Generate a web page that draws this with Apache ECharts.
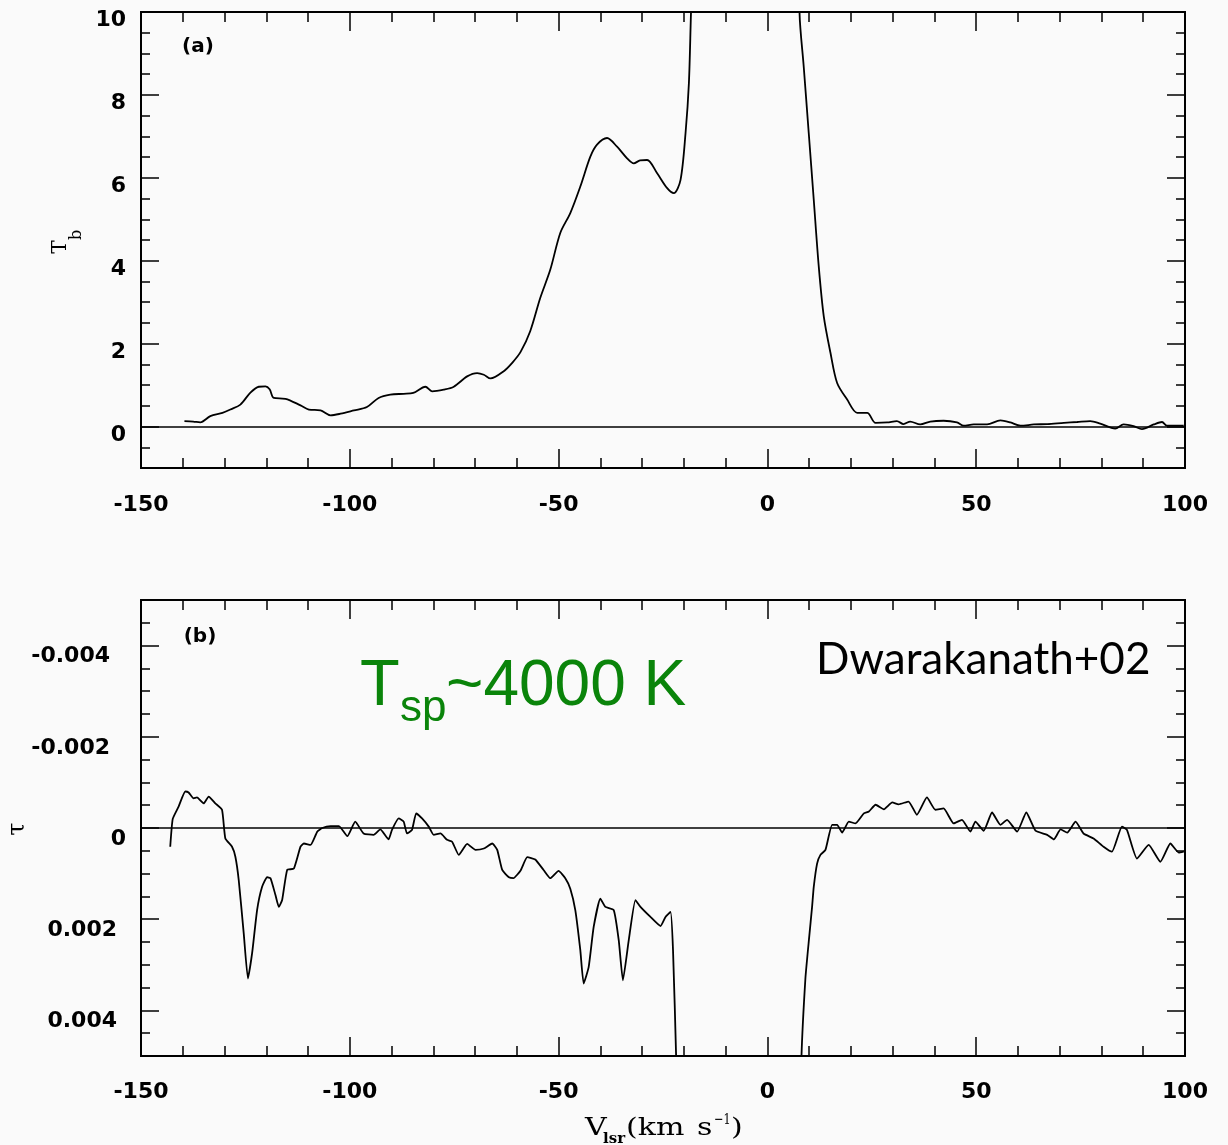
<!DOCTYPE html>
<html><head><meta charset="utf-8">
<script src="https://cdn.jsdelivr.net/npm/echarts@6/dist/echarts.min.js"></script>
<style>html,body{margin:0;padding:0;background:#fafafa}#c{width:1228px;height:1145px}</style>
</head><body><div id="c"></div>
<script>
// ---- Panel (a): brightness temperature T_b vs V_lsr ----
const tbVel = [-139.6,-137.5,-135.8,-133.4,-130.5,-128.6,-126.2,-123.8,-121.8,-120.2,-119.2,-118.2,-115.4,-111.8,-109.8,-107,-104.6,-102.2,-99,-95.9,-93.1,-90.3,-87.1,-84.8,-81.9,-80.3,-77.5,-75.1,-71.9,-69.5,-67.9,-66.3,-63.2,-61,-59.1,-56.8,-54.4,-52,-49.6,-47.2,-44.8,-42.4,-40.8,-38.4,-36,-33.6,-32,-30.5,-28.8,-26.4,-24,-22.4,-20.8,-19.6,-18.8,-18.3,-17,-15,-10,-5,0,3,6,7.7,8.7,9.9,11.1,12.3,13.5,15.1,16.7,19.1,21.5,23.9,25.9,28.7,31.0,32.6,34.2,36.6,39.0,42.2,45.4,47.0,49.4,52.6,55.8,58.2,60.6,63.8,67.0,71.0,74.2,77.3,79.7,83.3,85.3,87.7,89.7,92.5,94.5,95.7,99.7];
const tbVal = [0.13,0.12,0.10,0.25,0.33,0.41,0.53,0.82,0.96,0.97,0.90,0.69,0.67,0.51,0.41,0.39,0.27,0.31,0.39,0.47,0.69,0.77,0.79,0.81,0.96,0.85,0.89,0.96,1.21,1.29,1.25,1.16,1.33,1.55,1.80,2.30,3.10,3.78,4.67,5.15,5.79,6.51,6.80,6.96,6.75,6.47,6.35,6.42,6.43,6.11,5.75,5.63,5.95,7.08,8.28,9.97,14,22,40,52,55,45,20,9.97,8.68,7.08,5.47,3.86,2.66,1.78,1.05,0.65,0.33,0.33,0.09,0.10,0.13,0.06,0.12,0.05,0.12,0.14,0.10,0.02,0.05,0.05,0.15,0.10,0.02,0.05,0.06,0.09,0.11,0.13,0.07,-0.05,0.05,0.01,-0.06,0.05,0.11,0.02,0.02];

// ---- Panel (b): optical depth tau vs V_lsr ----
const tauVel = [-143.0,-142.4,-141.0,-139.4,-138.6,-137.4,-136.6,-135.0,-133.8,-132.2,-130.6,-129.8,-128.2,-127.4,-126.6,-125.4,-124.4,-123.4,-122.2,-121.0,-119.8,-119.0,-117.8,-117.0,-116.2,-115.0,-113.4,-111.8,-111.0,-109.4,-107.8,-106.6,-104.6,-102.6,-100.6,-98.7,-96.7,-94.3,-92.7,-90.7,-89.9,-88.3,-87.1,-86.3,-85.1,-84.1,-82.7,-81.1,-79.9,-78.3,-76.7,-75.5,-73.9,-71.9,-69.9,-67.9,-65.9,-64.7,-63.5,-61.9,-60.8,-59.1,-57.5,-55.6,-53.6,-52.0,-50.0,-48.4,-47.2,-46.0,-44.8,-44.0,-42.8,-41.6,-40.0,-38.8,-36.8,-35.6,-34.6,-33.2,-31.6,-30.4,-28.0,-25.6,-24.4,-23.2,-22.6,-21.8,-21.0,-10,0,7.6,8.1,9.1,10.0,10.7,11.1,11.9,12.7,13.9,15.5,16.7,17.9,19.5,21.1,23.1,24.3,25.9,27.9,29.9,31.4,33.8,35.8,38.2,40.2,42.2,44.6,46.6,48.6,49.8,51.8,53.8,55.8,57.4,59.8,62.0,64.2,67.0,68.6,70.2,71.8,73.8,75.7,78.1,80.5,82.5,84.9,86.1,88.5,91.3,94.1,96.5,98.5,99.7];
const tauVal = [0.00041,-0.0002,-0.00047,-0.0008,-0.00078,-0.00065,-0.00067,-0.00054,-0.00069,-0.00054,-0.0004,0.00023,0.00041,0.00063,0.00114,0.00231,0.0033,0.00275,0.0018,0.00129,0.00108,0.0011,0.00147,0.00173,0.00158,0.00092,0.00089,0.00041,0.00034,0.00037,0.00008,0.0,-0.00004,-0.00004,0.00018,-0.00014,0.00012,0.00015,0.00003,0.00025,0.00004,-0.00021,-0.00014,0.00012,0.00004,-0.00032,-0.00021,-0.00003,0.00015,0.00012,0.00026,0.0003,0.00059,0.00035,0.00048,0.00045,0.00034,0.00048,0.00092,0.00108,0.0011,0.00093,0.00064,0.00069,0.00092,0.0011,0.00094,0.0011,0.00133,0.0018,0.00268,0.00341,0.00305,0.00217,0.00155,0.00173,0.0018,0.00246,0.00334,0.00246,0.00158,0.00173,0.00195,0.00215,0.00195,0.00184,0.00268,0.0052,0.009,0.02,0.02,0.009,0.0052,0.0033,0.0024,0.00173,0.00129,0.00078,0.00059,0.00048,-0.00007,-0.00007,0.0001,-0.00014,-0.0001,-0.00032,-0.00036,-0.00051,-0.00041,-0.00056,-0.00052,-0.00058,-0.00029,-0.00067,-0.0004,-0.00043,-0.0001,-0.00018,0.00008,-0.00014,0.00006,-0.00034,-0.00007,-0.00018,0.00008,-0.00034,0.00006,0.00015,0.00025,0.00003,0.0001,-0.00014,0.00012,0.00023,0.00041,0.00052,-0.00003,0.00004,0.00067,0.00037,0.00074,0.00034,0.00054,0.00052];

// ---- Tick labels ----
const xTickLabels = [-150, -100, -50, 0, 50, 100];
const tbTickLabels = [0, 2, 4, 6, 8, 10];
const tauTickLabels = [-0.004, -0.002, 0, 0.002, 0.004];
const tbMinorTicks = [-1,-0.5,0,0.5,1,1.5,2,2.5,3,3.5,4,4.5,5,5.5,6,6.5,7,7.5,8,8.5,9,9.5,10];
const tauMinorTicks = [-0.005,-0.0045,-0.004,-0.0035,-0.003,-0.0025,-0.002,-0.0015,-0.001,-0.0005,0,0.0005,0.001,0.0015,0.002,0.0025,0.003,0.0035,0.004,0.0045,0.005];

const zip = (a, b) => a.map((v, i) => [v, b[i]]);
const BLACK = '#000';
const tickFont = {fontFamily: 'DejaVu Sans', fontSize: 22, fontWeight: 'bold', color: BLACK};

function xAx(grid, pos, showLabel, margin) {
  return {
    type: 'value', gridIndex: grid, position: pos, min: -150, max: 100, interval: 50,
    axisLine: {show: true, onZero: false, lineStyle: {color: BLACK, width: 2}},
    axisTick: {show: true, inside: true, length: 19, lineStyle: {color: BLACK, width: 1.5}},
    minorTick: {show: true, splitNumber: 5, length: 10, lineStyle: {color: BLACK, width: 1.5}},
    splitLine: {show: false}, minorSplitLine: {show: false},
    axisLabel: Object.assign({show: showLabel, margin: margin, showMinLabel: true, showMaxLabel: true,
      customValues: xTickLabels}, tickFont)
  };
}
function yAx(grid, pos, min, max, inverse, ticks, len, label) {
  return {
    type: 'value', gridIndex: grid, position: pos, min: min, max: max, inverse: inverse,
    axisLine: {show: true, onZero: false, lineStyle: {color: BLACK, width: 2}},
    axisTick: {show: true, inside: true, length: len, customValues: ticks, lineStyle: {color: BLACK, width: 1.5}},
    splitLine: {show: false},
    axisLabel: label || {show: false}
  };
}
const LH = 17;
const tbLabel = Object.assign({show: true, margin: 15, verticalAlign: 'top', lineHeight: LH,
  customValues: tbTickLabels, formatter: v => String(v)}, tickFont);
const richBase = {fontFamily: 'DejaVu Sans', fontSize: 22, fontWeight: 'bold', color: BLACK, lineHeight: LH, verticalAlign: 'top'};
const tauLabel = Object.assign({show: true, margin: 15, verticalAlign: 'top', lineHeight: LH, customValues: tauTickLabels,
  formatter: v => v < 0 ? '{n|' + v + '}' : (v > 0 ? '{p|' + v + '}' : '{z|0}'),
  rich: {
    n: Object.assign({padding: [0, 16, 0, 0]}, richBase),
    p: Object.assign({padding: [0, 9, 0, 0]}, richBase),
    z: Object.assign({}, richBase)
  }}, tickFont);

const zeroLine = {
  silent: true, symbol: ['none', 'none'], label: {show: false}, animation: false,
  lineStyle: {color: BLACK, width: 1.5, type: 'solid'}, data: [{yAxis: 0}]
};

const GREEN = '#0a840a';
const serif = {fontFamily: 'DejaVu Serif', fill: BLACK, align: 'left', verticalAlign: 'middle'};
const s = (o) => Object.assign({}, serif, o);
const chart = echarts.init(document.getElementById('c'), null, {renderer: 'canvas'});
chart.setOption({
  backgroundColor: '#fafafa',
  animation: false,
  grid: [
    {left: 141, top: 12, width: 1044, height: 456},
    {left: 141, top: 600, width: 1044, height: 456}
  ],
  xAxis: [xAx(0, 'bottom', true, 26), xAx(0, 'top', false, 26), xAx(1, 'bottom', true, 25), xAx(1, 'top', false, 25)],
  yAxis: [
    yAx(0, 'left', -1, 10, false, tbTickLabels, 18, tbLabel),
    yAx(0, 'left', -1, 10, false, tbMinorTicks, 9),
    yAx(0, 'right', -1, 10, false, tbTickLabels, 18),
    yAx(0, 'right', -1, 10, false, tbMinorTicks, 9),
    yAx(1, 'left', -0.005, 0.005, true, tauTickLabels, 18, tauLabel),
    yAx(1, 'left', -0.005, 0.005, true, tauMinorTicks, 9),
    yAx(1, 'right', -0.005, 0.005, true, tauTickLabels, 18),
    yAx(1, 'right', -0.005, 0.005, true, tauMinorTicks, 9)
  ],
  series: [
    {type: 'line', xAxisIndex: 0, yAxisIndex: 0, data: zip(tbVel, tbVal), showSymbol: false, clip: true, smooth: 0.3,
     lineStyle: {color: BLACK, width: 1.8}, markLine: zeroLine},
    {type: 'line', xAxisIndex: 2, yAxisIndex: 4, data: zip(tauVel, tauVal), showSymbol: false, clip: true, smooth: 0.15,
     lineStyle: {color: BLACK, width: 1.8}, markLine: zeroLine}
  ],
  graphic: [
    {type: 'text', x: 198, y: 47, style: {text: '(a)', fontFamily: 'DejaVu Sans', fontWeight: 'bold', fontSize: 20, fill: BLACK, align: 'center', verticalAlign: 'middle'}},
    {type: 'text', x: 200, y: 637, style: {text: '(b)', fontFamily: 'DejaVu Sans', fontWeight: 'bold', fontSize: 20, fill: BLACK, align: 'center', verticalAlign: 'middle'}},
    {type: 'group', x: 61, y: 247, rotation: Math.PI / 2, children: [
      {type: 'text', x: 0, y: 0, style: s({text: 'T', fontSize: 20, align: 'center'})},
      {type: 'text', x: 12, y: 16, style: s({text: 'b', fontSize: 16, align: 'center'})}
    ]},
    {type: 'group', x: 18, y: 829, rotation: Math.PI / 2, children: [
      {type: 'text', x: 0, y: 0, style: s({text: 'τ', fontSize: 24, align: 'center'})}
    ]},
    {type: 'text', x: 585, y: 1128, scaleX: 1.2, style: s({text: 'V', fontSize: 25})},
    {type: 'text', x: 603, y: 1139, style: s({text: 'lsr', fontSize: 15, fontWeight: 'bold'})},
    {type: 'text', x: 626, y: 1128, scaleX: 1.2, style: s({text: '(km', fontSize: 25})},
    {type: 'text', x: 697, y: 1128, scaleX: 1.2, style: s({text: 's', fontSize: 25})},
    {type: 'text', x: 714, y: 1120, scaleX: 0.75, style: s({text: '−1', fontSize: 15})},
    {type: 'text', x: 731, y: 1128, scaleX: 1.2, style: s({text: ')', fontSize: 25})},
    {type: 'text', x: 816, y: 660, style: {text: 'Dwarakanath+02', fontFamily: 'Lato', fontSize: 44, fill: BLACK, align: 'left', verticalAlign: 'middle'}},
    {type: 'text', x: 360, y: 687, style: {text: 'T', fontFamily: 'Liberation Sans', fontSize: 65, fill: GREEN, align: 'left', verticalAlign: 'middle'}},
    {type: 'text', x: 400, y: 709, style: {text: 'sp', fontFamily: 'Liberation Sans', fontSize: 44, fill: GREEN, align: 'left', verticalAlign: 'middle'}},
    {type: 'text', x: 446, y: 687, style: {text: '~4000 K', fontFamily: 'Liberation Sans', fontSize: 64, fill: GREEN, align: 'left', verticalAlign: 'middle'}}
  ]
});
</script></body></html>
